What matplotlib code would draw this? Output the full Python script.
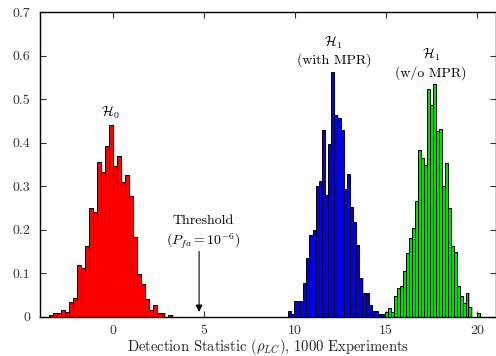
import numpy as np
import matplotlib
matplotlib.use("Agg")
import matplotlib.pyplot as plt

plt.rcParams["font.family"] = "serif"
plt.rcParams["font.serif"] = ["cmr10"]
plt.rcParams["mathtext.fontset"] = "cm"
plt.rcParams["axes.formatter.use_mathtext"] = True

# Histogram densities (1000 experiments each)
h0_start, h0_width = -3.49, 0.218
h0_density = [0.005, 0.009, 0.009, 0.015, 0.010, 0.033, 0.042, 0.120, 0.111, 0.162,
              0.250, 0.240, 0.355, 0.333, 0.392, 0.442, 0.347, 0.369, 0.310, 0.327,
              0.278, 0.184, 0.098, 0.075, 0.041, 0.015, 0.028, 0.009, 0.009, 0.0,
              0.005]

h1_mpr_start, h1_mpr_width = 9.59, 0.171
h1_mpr_density = [0.013, 0.006, 0.036, 0.036, 0.036, 0.077, 0.135, 0.188, 0.200, 0.300,
                  0.311, 0.430, 0.281, 0.398, 0.562, 0.464, 0.456, 0.430, 0.293, 0.328,
                  0.252, 0.217, 0.165, 0.088, 0.054, 0.054, 0.028, 0.013, 0.013, 0.006,
                  0.006]

h1_nompr_start, h1_nompr_width = 14.95, 0.163
h1_nompr_density = [0.011, 0.019, 0.011, 0.048, 0.067, 0.070, 0.105, 0.147, 0.182, 0.205,
                    0.266, 0.383, 0.366, 0.349, 0.523, 0.488, 0.535, 0.428, 0.432, 0.300,
                    0.353, 0.251, 0.162, 0.149, 0.070, 0.048, 0.031, 0.054, 0.023, 0.0,
                    0.0, 0.008]

threshold = 4.73
xticks = [0, 5, 10, 15, 20]
yticks = [0, 0.1, 0.2, 0.3, 0.4, 0.5, 0.6, 0.7]
ytick_labels = ["0", "0.1", "0.2", "0.3", "0.4", "0.5", "0.6", "0.7"]

fig = plt.figure(figsize=(4.96, 3.56), dpi=100)
ax = fig.add_axes([0.0806, 0.1104, 0.9185, 0.855])

series = [
    (h0_start, h0_width, h0_density, "#ff0000"),
    (h1_mpr_start, h1_mpr_width, h1_mpr_density, "#0000ee"),
    (h1_nompr_start, h1_nompr_width, h1_nompr_density, "#00e000"),
]
for start, width, dens, col in series:
    lefts = start + width * np.arange(len(dens))
    # faint grey shadow like the original rendering
    ax.bar(lefts + 0.06, dens, width=width, align="edge", color="#bbbbbb",
           linewidth=0, zorder=1)
    ax.bar(lefts, dens, width=width, align="edge", color=col,
           edgecolor="black", linewidth=0.7, zorder=2)

ax.set_xlim(-4, 21)
ax.set_ylim(0, 0.7)
ax.set_xticks(xticks)
ax.set_xticklabels([str(t) for t in xticks])
ax.set_yticks(yticks)
ax.set_yticklabels(ytick_labels)
ax.tick_params(direction="in", top=True, right=True, length=4, width=0.8,
               labelsize=10, colors="#333333", labelcolor="#333333")
ax.tick_params(axis="x", pad=6)
ax.tick_params(axis="y", pad=7)
for s in ax.spines.values():
    s.set_linewidth(1.0)
    s.set_zorder(3)

ax.set_xlabel(r"Detection Statistic ($\rho_{LC}$), 1000 Experiments",
              fontsize=10.5, labelpad=0, color="#222222")

fs = 10
ax.text(-0.13, 0.47, r"$\mathcal{H}_0$", ha="center", va="center", fontsize=fs)
ax.text(12.08, 0.630, r"$\mathcal{H}_1$", ha="center", va="center", fontsize=fs)
ax.text(12.15, 0.590, "(with MPR)", ha="center", va="center", fontsize=fs)
ax.text(17.45, 0.602, r"$\mathcal{H}_1$", ha="center", va="center", fontsize=fs)
ax.text(17.45, 0.560, "(w/o MPR)", ha="center", va="center", fontsize=fs)
ax.text(4.95, 0.22, "Threshold", ha="center", va="center", fontsize=fs)
ax.text(4.95, 0.174, r"$(P_{fa} = 10^{-6})$", ha="center", va="center", fontsize=fs)

ax.annotate("", xy=(threshold, 0.011), xytext=(threshold, 0.15),
            arrowprops=dict(arrowstyle="-|>", color="black", lw=0.8,
                            mutation_scale=10, shrinkA=0, shrinkB=0))

fig.savefig("out.png", dpi=100)
